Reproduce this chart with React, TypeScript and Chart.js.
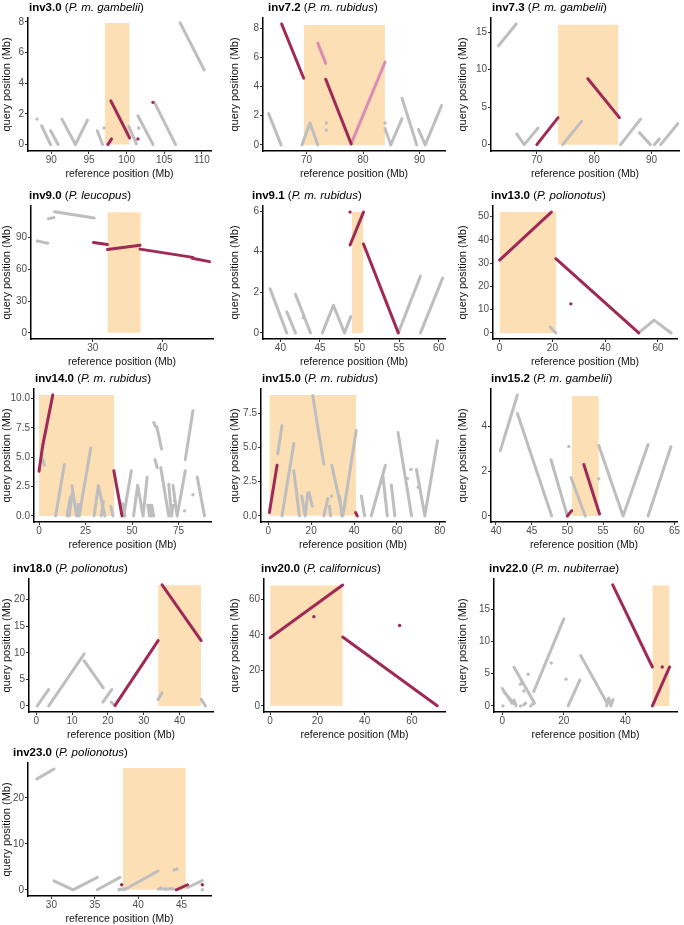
import React, { useEffect, useRef } from 'react';
import { Chart, registerables } from 'chart.js';
Chart.register(...registerables);

type Seg = number[]; // [x1, y1, x2, y2]
type Pt = number[]; // [x, y]

// ---------- inv3.0 ----------
const inv3_0_xTicks = ['90', '95', '100', '105', '110'];
const inv3_0_yTicks = ['0', '2', '4', '6', '8'];
const inv3_0_xRange = [86.9, 111.2];
const inv3_0_yRange = [-0.42, 8.25];
const inv3_0_box = [97.1, 100.4, 7.93];
const inv3_0_gray: Seg[] = [
  [88.7, 1.23, 89.9, 0], [89.9, 0.9, 90.9, 0], [91.4, 1.66, 93.2, 0], [93.2, 0, 94.8, 1.6],
  [96.1, 0.9, 96.8, 0], [100.3, 1.17, 101.3, 0.05], [101.5, 1.88, 103.5, 0], [103.8, 2.64, 106.5, 0],
  [107.1, 7.93, 110.3, 4.86],
];
const inv3_0_grayDots: Pt[] = [[88.1, 1.66], [97.0, 1.08], [101.6, 1.08]];
const inv3_0_red: Seg[] = [[97.5, 0, 98.0, 0.37], [97.9, 2.85, 100.4, 0.43]];
const inv3_0_redDots: Pt[] = [[101.5, 0.37], [103.5, 2.75]];

// ---------- inv7.2 ----------
const inv7_2_xTicks = ['70', '80', '90'];
const inv7_2_yTicks = ['0', '2', '4', '6', '8'];
const inv7_2_xRange = [62.3, 94.5];
const inv7_2_yRange = [-0.42, 8.7];
const inv7_2_box = [69.5, 83.9, 8.22];
const inv7_2_gray: Seg[] = [
  [63.3, 2.14, 65.5, 0], [69.2, 0, 70.6, 1.5], [70.6, 1.5, 72.0, 0], [83.9, 1.13, 84.9, 0],
  [84.9, 0, 86.9, 1.8], [86.9, 3.2, 89.5, 0], [89.8, 1.06, 91.0, 0], [91.0, 0, 93.9, 2.7],
];
const inv7_2_grayDots: Pt[] = [[73.5, 1.5], [73.5, 1.0], [83.9, 1.5]];
const inv7_2_red: Seg[] = [[65.6, 8.29, 69.5, 4.57], [73.4, 4.5, 77.9, 0.07]];
const inv7_2_pink: Seg[] = [[72.0, 6.98, 73.4, 5.59], [77.9, 0.07, 83.9, 5.68]];

// ---------- inv7.3 ----------
const inv7_3_xTicks = ['70', '80', '90'];
const inv7_3_yTicks = ['0', '5', '10', '15'];
const inv7_3_xRange = [62.0, 94.8];
const inv7_3_yRange = [-0.85, 16.9];
const inv7_3_box = [73.7, 84.2, 16.0];
const inv7_3_gray: Seg[] = [
  [63.3, 13.2, 66.4, 16.1], [66.5, 1.4, 67.8, 0], [67.8, 0, 70.2, 2.2], [74.5, 0, 77.8, 3.1],
  [84.6, 0, 88.1, 3.4], [87.9, 1.6, 89.8, 0], [90.5, 0, 91.4, 0.74], [91.6, 0, 94.6, 2.8],
];
const inv7_3_red: Seg[] = [[70.0, 0, 73.7, 3.6], [78.9, 8.8, 84.4, 3.6]];

// ---------- inv9.0 ----------
const inv9_0_xTicks = ['30', '40'];
const inv9_0_yTicks = ['0', '30', '60', '90'];
const inv9_0_xRange = [21.1, 47.3];
const inv9_0_yRange = [-5.8, 120];
const inv9_0_box = [32.1, 36.9, 114];
const inv9_0_gray: Seg[] = [[22.0, 86.9, 23.5, 84.8], [23.6, 108, 24.4, 109], [24.5, 114.6, 30.2, 108.7]];
const inv9_0_red: Seg[] = [
  [30.1, 85.4, 32.1, 83.5], [32.1, 78.9, 36.8, 82.9], [36.8, 79.2, 44.4, 71.4], [44.3, 70.5, 46.8, 67.4],
];

// ---------- inv9.1 ----------
const inv9_1_xTicks = ['40', '45', '50', '55', '60'];
const inv9_1_yTicks = ['0', '2', '4', '6'];
const inv9_1_xRange = [37.8, 60.8];
const inv9_1_yRange = [-0.3, 6.25];
const inv9_1_box = [49.0, 50.5, 5.95];
const inv9_1_gray: Seg[] = [
  [38.7, 2.17, 40.8, 0], [40.8, 1.04, 41.9, 0], [41.9, 1.9, 43.8, 0], [45.3, 0, 46.7, 1.36],
  [46.7, 1.36, 48.1, 0], [48.1, 0, 48.9, 0.8], [54.9, 0, 57.7, 2.8], [57.7, 0, 60.5, 2.7],
];
const inv9_1_grayDots: Pt[] = [[42.9, 0.75]];
const inv9_1_red: Seg[] = [[48.8, 4.33, 50.5, 5.95], [50.5, 4.38, 54.9, 0]];
const inv9_1_redDots: Pt[] = [[48.8, 5.95]];

// ---------- inv13.0 ----------
const inv13_0_xTicks = ['0', '20', '40', '60'];
const inv13_0_yTicks = ['0', '10', '20', '30', '40', '50'];
const inv13_0_xRange = [-2.5, 67.2];
const inv13_0_yRange = [-2.6, 54.5];
const inv13_0_box = [0, 21.5, 51.9];
const inv13_0_gray: Seg[] = [[19.2, 2.5, 21.3, 0], [52.7, 0, 58.5, 5.5], [58.5, 5.5, 65.0, 0]];
const inv13_0_red: Seg[] = [[0, 31.3, 19.6, 51.9], [21.3, 31.9, 52.7, 0]];
const inv13_0_redDots: Pt[] = [[27.0, 12.5]];

// ---------- inv14.0 ----------
const inv14_0_xTicks = ['0', '25', '50', '75'];
const inv14_0_yTicks = ['0.0', '2.5', '5.0', '7.5', '10.0'];
const inv14_0_xRange = [-2.7, 92.4];
const inv14_0_yRange = [-0.52, 10.8];
const inv14_0_box = [0, 40.5, 10.28];
const inv14_0_gray: Seg[] = [
  [2.1, 4.8, 2.9, 4.3], [8.9, 0, 13.6, 4.35], [15.0, 0, 16.8, 1.56], [16.3, 0, 17.7, 1.85],
  [17.7, 2.56, 20.2, 0], [20.2, 0, 21.2, 1.0], [21.6, 0, 27.8, 5.77], [29.6, 0, 31.9, 2.56],
  [31.9, 2.56, 35.4, 0], [33.4, 0, 34.6, 1.2], [38.6, 0.8, 39.7, 0], [44.8, 1.05, 46.2, 0],
  [45.5, 0, 49.6, 3.84], [50.8, 0, 53.0, 2.6], [53.0, 2.6, 55.9, 0], [55.9, 0, 58.1, 3.3],
  [58.5, 0.9, 59.4, 0], [59.6, 0.9, 60.4, 0], [60.6, 0.9, 61.6, 0], [61.6, 7.95, 62.6, 7.6],
  [63.3, 7.6, 65.8, 5.7], [62.3, 4.8, 63.5, 4.1], [65.4, 4.1, 69.7, 0], [69.7, 2.7, 71.2, 0],
  [71.2, 0, 72.0, 0.9], [72.0, 2.6, 74.2, 0], [74.2, 0, 78.6, 3.84], [78.6, 4.8, 82.7, 8.95],
  [85.0, 3.3, 88.9, 0],
];
const inv14_0_grayDots: Pt[] = [[72.9, 1.28], [78.2, 0.43], [82.7, 1.8]];
const inv14_0_red: Seg[] = [[0, 3.8, 1.9, 5.9], [2.0, 6.0, 7.4, 10.3], [40.2, 3.84, 44.6, 0]];

// ---------- inv15.0 ----------
const inv15_0_xTicks = ['0', '20', '40', '60', '80'];
const inv15_0_yTicks = ['0.0', '2.5', '5.0', '7.5'];
const inv15_0_xRange = [-3.4, 82.4];
const inv15_0_yRange = [-0.45, 9.28];
const inv15_0_box = [0.5, 41.0, 8.84];
const inv15_0_gray: Seg[] = [
  [4.4, 4.55, 6.4, 6.6], [6.4, 0, 11.9, 5.3], [11.9, 3.3, 14.5, 0], [15.6, 1.45, 17.2, 0],
  [17.2, 0, 18.4, 1.65], [19.0, 1.7, 20.5, 0.7], [20.7, 8.8, 25.9, 3.78], [25.9, 0, 27.8, 1.28],
  [28.5, 0.7, 29.1, 0], [29.6, 3.7, 34.8, 0], [33.2, 1.45, 34.3, 0], [34.8, 0, 41.0, 6.25],
  [43.4, 1.45, 44.9, 0], [48.0, 0, 54.6, 3.7], [53.5, 2.86, 55.5, 0], [57.4, 2.25, 59.0, 0],
  [60.5, 6.1, 66.8, 0], [69.1, 3.4, 73.0, 0], [73.0, 0, 78.9, 5.5],
];
const inv15_0_grayDots: Pt[] = [[29.5, 1.45], [66.5, 3.4], [64.9, 2.74], [69.9, 2.1]];
const inv15_0_red: Seg[] = [[0.5, 0.24, 4.1, 3.7], [40.7, 0.24, 41.5, 0]];

// ---------- inv15.2 ----------
const inv15_2_xTicks = ['40', '45', '50', '55', '60', '65'];
const inv15_2_yTicks = ['0', '2', '4'];
const inv15_2_xRange = [39.3, 65.35];
const inv15_2_yRange = [-0.27, 5.69];
const inv15_2_box = [50.6, 54.4, 5.38];
const inv15_2_gray: Seg[] = [
  [40.6, 2.93, 43.0, 5.42], [43.0, 4.59, 47.8, 0], [47.7, 2.52, 50.0, 0], [50.5, 1.72, 52.5, 0],
  [54.4, 3.16, 57.8, 0], [57.8, 0, 61.3, 3.2], [61.3, 0, 64.5, 3.1],
];
const inv15_2_grayDots: Pt[] = [[50.2, 3.11], [54.4, 1.67]];
const inv15_2_red: Seg[] = [[50.0, 0, 50.6, 0.24], [52.3, 2.31, 54.5, 0.09]];

// ---------- inv18.0 ----------
const inv18_0_xTicks = ['0', '10', '20', '30', '40'];
const inv18_0_yTicks = ['0', '5', '10', '15', '20'];
const inv18_0_xRange = [-2.0, 49.3];
const inv18_0_yRange = [-1.14, 23.9];
const inv18_0_box = [34.0, 46.0, 22.7];
const inv18_0_gray: Seg[] = [
  [0.3, 0, 3.5, 3.1], [3.5, 0, 13.4, 9.8], [13.4, 8.5, 18.7, 3.4], [18.6, 0.74, 21.1, 3.1],
  [20.9, 0.74, 22.0, 0], [34.0, 1.24, 35.1, 2.48], [46.0, 1.24, 47.2, 0],
];
const inv18_0_red: Seg[] = [[22.0, 0.12, 34.0, 12.3], [35.1, 22.8, 46.0, 12.3]];

// ---------- inv20.0 ----------
const inv20_0_xTicks = ['0', '20', '40', '60'];
const inv20_0_yTicks = ['0', '20', '40', '60'];
const inv20_0_xRange = [-2.6, 74.0];
const inv20_0_yRange = [-3.5, 71.4];
const inv20_0_box = [0, 30.7, 67.8];
const inv20_0_red: Seg[] = [[0, 38.3, 30.7, 68.0], [30.7, 38.7, 70.7, 0]];
const inv20_0_redDots: Pt[] = [[18.5, 50.2], [54.8, 45.2]];

// ---------- inv22.0 ----------
const inv22_0_xTicks = ['0', '20', '40'];
const inv22_0_yTicks = ['0', '5', '10', '15'];
const inv22_0_xRange = [-2.7, 56.8];
const inv22_0_yRange = [-0.95, 19.7];
const inv22_0_box = [48.8, 54.4, 18.7];
const inv22_0_gray: Seg[] = [
  [0, 2.7, 3.2, 0.4], [0.5, 2.2, 3.7, 0.4], [3.8, 0.9, 4.5, 0], [3.8, 6.0, 10.5, 0.4],
  [10.2, 2.2, 20.0, 13.5], [21.4, 0, 25.2, 4.0], [25.5, 7.8, 34.1, 0.4], [33.9, 0, 34.6, 1.2],
  [34.6, 1.2, 35.3, 0], [35.3, 0, 36.0, 1.0],
];
const inv22_0_grayDots: Pt[] = [
  [0.2, 0], [5.9, 3.35], [6.4, 3.6], [7.0, 2.3], [8.4, 4.9], [5.9, 0], [7.0, 0.15], [7.5, 0.4],
  [9.2, 0], [9.9, 0.3], [15.9, 6.66], [20.7, 4.15],
];
const inv22_0_red: Seg[] = [[35.9, 18.8, 48.8, 6.04], [48.8, 0, 54.4, 6.04]];
const inv22_0_redDots: Pt[] = [[52.0, 6.04]];

// ---------- inv23.0 ----------
const inv23_0_xTicks = ['30', '35', '40', '45'];
const inv23_0_yTicks = ['0', '10', '20'];
const inv23_0_xRange = [27.3, 48.4];
const inv23_0_yRange = [-1.35, 27.6];
const inv23_0_box = [38.25, 45.5, 26.5];
const inv23_0_gray: Seg[] = [
  [28.3, 24.1, 30.3, 26.3], [30.3, 1.96, 32.5, 0], [32.5, 0, 35.3, 2.7], [35.3, 0, 37.9, 2.7],
  [38.4, 0, 42.3, 4.1], [44.1, 4.3, 44.5, 4.5], [45.7, 0.5, 47.4, 2.0], [37.8, 0.1, 38.4, 0.1],
  [42.3, 0.2, 44.1, 0.2],
];
const inv23_0_grayDots: Pt[] = [[37.8, 0], [38.2, 0.2], [42.6, 0.4], [43.2, 0.1], [43.8, 0.3], [47.4, 0]];
const inv23_0_red: Seg[] = [[44.4, 0, 45.7, 1.1]];
const inv23_0_redDots: Pt[] = [[38.1, 1.1], [47.4, 1.1]];

// ---------- layout / styles ----------
const FONT = '"Liberation Sans", Arial, Helvetica, sans-serif';
const RED = '#9E2A55';
const PINK = '#DA8DB3';
const GRAY = '#BEBEBE';
const BOX = '#FDDFB6';
const COL_LEFT = [0, 228, 456];
const COL_RIGHT = [215, 449, 681];
const ROW_TOP = [0, 188, 371, 561, 745];
const CANVAS_H = 180;
const PLOT_TOP = 18;
const X_AXIS_H = 29;

interface PanelCfg {
  name: string; species: string; col: number; row: number;
  axisX: number; titleX: number;
  xTicks: string[]; yTicks: string[]; xRange: number[]; yRange: number[]; box: number[];
  gray?: Seg[]; grayDots?: Pt[]; red?: Seg[]; redDots?: Pt[]; pink?: Seg[];
}

const panels: PanelCfg[] = [
  { name: 'inv3.0', species: 'P. m. gambelii', col: 0, row: 0, axisX: 28, titleX: 29, xTicks: inv3_0_xTicks, yTicks: inv3_0_yTicks, xRange: inv3_0_xRange, yRange: inv3_0_yRange, box: inv3_0_box, gray: inv3_0_gray, grayDots: inv3_0_grayDots, red: inv3_0_red, redDots: inv3_0_redDots },
  { name: 'inv7.2', species: 'P. m. rubidus', col: 1, row: 0, axisX: 35, titleX: 40, xTicks: inv7_2_xTicks, yTicks: inv7_2_yTicks, xRange: inv7_2_xRange, yRange: inv7_2_yRange, box: inv7_2_box, gray: inv7_2_gray, grayDots: inv7_2_grayDots, red: inv7_2_red, pink: inv7_2_pink },
  { name: 'inv7.3', species: 'P. m. gambelii', col: 2, row: 0, axisX: 35, titleX: 36, xTicks: inv7_3_xTicks, yTicks: inv7_3_yTicks, xRange: inv7_3_xRange, yRange: inv7_3_yRange, box: inv7_3_box, gray: inv7_3_gray, red: inv7_3_red },
  { name: 'inv9.0', species: 'P. leucopus', col: 0, row: 1, axisX: 31, titleX: 29, xTicks: inv9_0_xTicks, yTicks: inv9_0_yTicks, xRange: inv9_0_xRange, yRange: inv9_0_yRange, box: inv9_0_box, gray: inv9_0_gray, red: inv9_0_red },
  { name: 'inv9.1', species: 'P. m. rubidus', col: 1, row: 1, axisX: 35, titleX: 24, xTicks: inv9_1_xTicks, yTicks: inv9_1_yTicks, xRange: inv9_1_xRange, yRange: inv9_1_yRange, box: inv9_1_box, gray: inv9_1_gray, grayDots: inv9_1_grayDots, red: inv9_1_red, redDots: inv9_1_redDots },
  { name: 'inv13.0', species: 'P. polionotus', col: 2, row: 1, axisX: 37, titleX: 35, xTicks: inv13_0_xTicks, yTicks: inv13_0_yTicks, xRange: inv13_0_xRange, yRange: inv13_0_yRange, box: inv13_0_box, gray: inv13_0_gray, red: inv13_0_red, redDots: inv13_0_redDots },
  { name: 'inv14.0', species: 'P. m. rubidus', col: 0, row: 2, axisX: 34, titleX: 35, xTicks: inv14_0_xTicks, yTicks: inv14_0_yTicks, xRange: inv14_0_xRange, yRange: inv14_0_yRange, box: inv14_0_box, gray: inv14_0_gray, grayDots: inv14_0_grayDots, red: inv14_0_red },
  { name: 'inv15.0', species: 'P. m. rubidus', col: 1, row: 2, axisX: 33, titleX: 34, xTicks: inv15_0_xTicks, yTicks: inv15_0_yTicks, xRange: inv15_0_xRange, yRange: inv15_0_yRange, box: inv15_0_box, gray: inv15_0_gray, grayDots: inv15_0_grayDots, red: inv15_0_red },
  { name: 'inv15.2', species: 'P. m. gambelii', col: 2, row: 2, axisX: 35, titleX: 35, xTicks: inv15_2_xTicks, yTicks: inv15_2_yTicks, xRange: inv15_2_xRange, yRange: inv15_2_yRange, box: inv15_2_box, gray: inv15_2_gray, grayDots: inv15_2_grayDots, red: inv15_2_red },
  { name: 'inv18.0', species: 'P. polionotus', col: 0, row: 3, axisX: 29, titleX: 13, xTicks: inv18_0_xTicks, yTicks: inv18_0_yTicks, xRange: inv18_0_xRange, yRange: inv18_0_yRange, box: inv18_0_box, gray: inv18_0_gray, red: inv18_0_red },
  { name: 'inv20.0', species: 'P. californicus', col: 1, row: 3, axisX: 36, titleX: 33, xTicks: inv20_0_xTicks, yTicks: inv20_0_yTicks, xRange: inv20_0_xRange, yRange: inv20_0_yRange, box: inv20_0_box, red: inv20_0_red, redDots: inv20_0_redDots },
  { name: 'inv22.0', species: 'P. m. nubiterrae', col: 2, row: 3, axisX: 38, titleX: 33, xTicks: inv22_0_xTicks, yTicks: inv22_0_yTicks, xRange: inv22_0_xRange, yRange: inv22_0_yRange, box: inv22_0_box, gray: inv22_0_gray, grayDots: inv22_0_grayDots, red: inv22_0_red, redDots: inv22_0_redDots },
  { name: 'inv23.0', species: 'P. polionotus', col: 0, row: 4, axisX: 28, titleX: 13, xTicks: inv23_0_xTicks, yTicks: inv23_0_yTicks, xRange: inv23_0_xRange, yRange: inv23_0_yRange, box: inv23_0_box, gray: inv23_0_gray, grayDots: inv23_0_grayDots, red: inv23_0_red, redDots: inv23_0_redDots },
];

const titlePlugin = {
  id: 'panelTitle',
  afterDraw(chart: any, _args: any, opts: any) {
    const ctx = chart.ctx;
    ctx.save();
    ctx.textBaseline = 'middle';
    ctx.fillStyle = '#000';
    let x = opts.x;
    const y = opts.y;
    const parts: [string, string][] = [
      [opts.name, 'bold'], [' (', 'normal'], [opts.species, 'italic'], [')', 'normal'],
    ];
    for (const [t, st] of parts) {
      ctx.font = `${st === 'normal' ? '' : st + ' '}11.5px ${FONT}`;
      ctx.fillText(t, x, y);
      x += ctx.measureText(t).width;
    }
    ctx.restore();
  },
};

function segData(segs: Seg[]) {
  const out: any[] = [];
  segs.forEach((s) => {
    out.push({ x: s[0], y: s[1] });
    out.push({ x: s[2], y: s[3] });
    out.push({ x: s[2], y: null });
  });
  return out;
}
const ptData = (pts: Pt[]) => pts.map((q) => ({ x: q[0], y: q[1] }));

function Panel({ p }: { p: PanelCfg }) {
  const ref = useRef<HTMLCanvasElement>(null);
  const width = COL_RIGHT[p.col] - COL_LEFT[p.col];
  useEffect(() => {
    if (!ref.current) return;
    const seg = { pointRadius: 0, borderWidth: 3, borderCapStyle: 'round', spanGaps: false, fill: false, tension: 0 };
    const dot = { showLine: false, pointRadius: 1.7, pointBorderWidth: 0 };
    const datasets: any[] = [];
    if (p.redDots) datasets.push({ ...dot, data: ptData(p.redDots), pointBackgroundColor: RED });
    if (p.red) datasets.push({ ...seg, data: segData(p.red), borderColor: RED });
    if (p.pink) datasets.push({ ...seg, data: segData(p.pink), borderColor: PINK });
    if (p.grayDots) datasets.push({ ...dot, data: ptData(p.grayDots), pointBackgroundColor: GRAY });
    if (p.gray) datasets.push({ ...seg, data: segData(p.gray), borderColor: GRAY });
    datasets.push({
      data: [{ x: p.box[0], y: p.box[2] }, { x: p.box[1], y: p.box[2] }],
      fill: 'origin', backgroundColor: BOX, borderWidth: 0, pointRadius: 0,
    });
    const tickFont = { size: 10, family: FONT };
    const axisCommon = {
      type: 'linear',
      grid: { display: true, drawOnChartArea: false, drawTicks: true, tickLength: 3, color: '#333', lineWidth: 1 },
      border: { display: true, color: '#000', width: 1.5 },
    };
    const chart = new Chart(ref.current, {
      type: 'line',
      data: { datasets },
      plugins: [titlePlugin as any],
      options: {
        animation: false,
        responsive: false,
        events: [],
        layout: { padding: { top: PLOT_TOP, right: 2, bottom: 0, left: 0 } },
        plugins: {
          legend: { display: false },
          tooltip: { enabled: false },
          panelTitle: { name: p.name, species: p.species, x: p.titleX, y: 8 },
        } as any,
        scales: {
          x: {
            ...axisCommon,
            min: p.xRange[0], max: p.xRange[1],
            afterBuildTicks: (s: any) => { s.ticks = p.xTicks.map((l) => ({ value: Number(l) })); },
            afterFit: (s: any) => { s.height = X_AXIS_H; },
            ticks: { color: '#4d4d4d', font: tickFont, padding: 0, autoSkip: false, maxRotation: 0,
              callback: (_v: any, i: number) => p.xTicks[i] },
            title: { display: true, text: 'reference position (Mb)', color: '#111', font: { size: 10.5, family: FONT }, padding: { top: 1, bottom: 0 } },
          },
          y: {
            ...axisCommon,
            min: p.yRange[0], max: p.yRange[1],
            afterBuildTicks: (s: any) => { s.ticks = p.yTicks.map((l) => ({ value: Number(l) })); },
            afterFit: (s: any) => { s.width = p.axisX; },
            ticks: { color: '#4d4d4d', font: tickFont, padding: 1, autoSkip: false,
              callback: (_v: any, i: number) => p.yTicks[i] },
            title: { display: true, text: 'query position (Mb)', color: '#111', font: { size: 11, family: FONT }, padding: { top: 0, bottom: 2 } },
          },
        } as any,
      },
    } as any);
    return () => chart.destroy();
  }, [p]);
  return (
    <canvas
      ref={ref}
      width={width}
      height={CANVAS_H}
      style={{ position: 'absolute', left: COL_LEFT[p.col], top: ROW_TOP[p.row], width, height: CANVAS_H }}
    />
  );
}

export default function App() {
  return (
    <div style={{ position: 'relative', width: 684, height: 925, background: '#fff', overflow: 'hidden' }}>
      <style>{'body{margin:0;background:#fff}'}</style>
      {panels.map((p) => <Panel key={p.name} p={p} />)}
    </div>
  );
}
